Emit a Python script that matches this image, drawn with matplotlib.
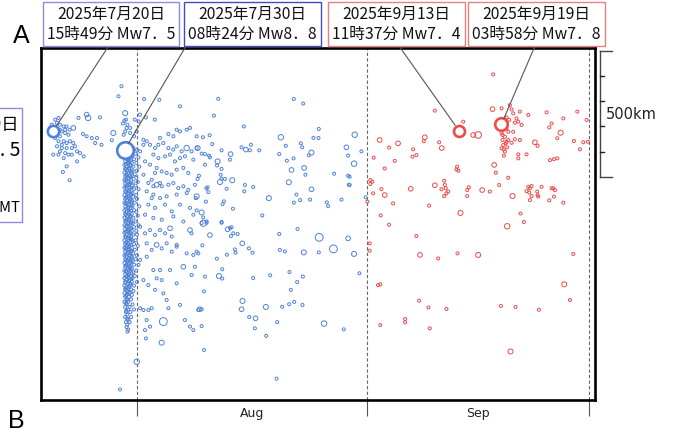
import matplotlib
matplotlib.use("Agg")
import matplotlib.pyplot as plt
from matplotlib.patches import Rectangle
from matplotlib.transforms import blended_transform_factory

# x: days since 2025-07-01 00:00 (Aug 1 = 31, Sep 1 = 62, Oct 1 = 92)
# y: km along the trench, 0 at the top edge of the panel
month_start = [31, 62, 92]
month_mid = [46.5, 77.0]
month_names = ["Aug", "Sep"]

main_day = [19.66, 29.35, 74.48, 80.17]
main_km = [331, 404, 330, 304]
main_mag = [7.5, 8.8, 7.4, 7.8]
main_text = ["2025年7月20日\n15時49分 Mw7．5",
             "2025年7月30日\n08時24分 Mw8．8",
             "2025年9月13日\n11時37分 Mw7．4",
             "2025年9月19日\n03時58分 Mw7．8"]

# aftershocks before Sep 13 (blue): (day, km, Mw)
blue_events = [
    (19.95, 285, 5.0), (20.4, 278, 5.0), (20.2, 298, 5.0), (20.6, 305, 5.0), (21.1, 312, 5.0),
    (21.5, 312, 5.0), (22.4, 318, 5.4), (20.85, 332, 5.0), (21.3, 338, 5.0), (21.75, 345, 5.0),
    (20.6, 351, 5.0), (19.95, 358, 5.0), (20.4, 371, 5.0), (21.1, 371, 5.0), (21.95, 371, 5.0),
    (22.4, 378, 5.0), (20.2, 391, 5.0), (20.85, 398, 5.0), (21.5, 398, 5.0), (20.6, 411, 5.0),
    (21.3, 418, 5.0), (22.2, 398, 5.0), (22.9, 411, 5.0), (23.3, 418, 5.0), (23.8, 431, 5.0),
    (21.75, 424, 5.0), (19.7, 424, 5.0), (21.1, 438, 5.0), (22.9, 451, 5.0), (21.5, 471, 5.0),
    (21.0, 493, 5.0), (21.9, 526, 5.0), (23.1, 278, 5.0), (24.2, 265, 5.4), (24.4, 278, 5.6),
    (26.0, 276, 5.0), (23.7, 342, 5.0), (24.2, 351, 5.0), (24.9, 358, 5.0), (25.6, 358, 5.0),
    (25.35, 378, 5.0), (26.2, 385, 5.0), (27.6, 367, 5.0), (27.8, 338, 5.5), (19.5, 305, 5.0),
    (19.3, 318, 5.0), (19.95, 318, 5.0), (20.6, 325, 5.0), (21.3, 325, 5.0), (21.9, 325, 5.0),
    (20.4, 424, 5.0), (22.2, 424, 5.0), (20.85, 385, 5.0), (21.5, 378, 5.0), (22.65, 391, 5.0),
    (28.9, 152, 5.0), (28.5, 192, 5.0), (29.4, 259, 5.5), (29.5, 285, 5.0), (29.7, 305, 5.0),
    (30.06, 318, 5.0), (30.7, 285, 5.0), (31.2, 292, 5.0), (31.4, 265, 5.0), (31.95, 203, 5.0),
    (32.2, 276, 5.0), (33.4, 285, 5.0), (34.0, 206, 5.0), (36.8, 232, 5.0), (29.2, 345, 5.0),
    (29.4, 332, 5.0), (30.06, 338, 5.0), (30.6, 351, 5.0), (30.95, 332, 5.0), (29.1, 300, 5.0),
    (29.3, 290, 5.0), (29.6, 318, 5.0),
    (31.86, 365, 5.0), (32.3, 371, 5.0), (32.75, 385, 5.0), (33.43, 398, 5.0), (34.1, 358, 5.0),
    (34.55, 378, 5.0), (35.23, 398, 5.0), (35.9, 404, 5.0), (36.35, 391, 5.0), (37.02, 411, 5.0),
    (37.7, 398, 5.6), (38.37, 411, 5.0), (39.05, 398, 5.0), (33.2, 424, 5.0), (33.88, 438, 5.0),
    (34.78, 431, 5.0), (35.45, 424, 5.0), (36.12, 451, 5.0), (36.8, 438, 5.0), (37.47, 431, 5.0),
    (38.6, 444, 5.0), (32.08, 451, 5.0), (32.75, 464, 5.0), (33.65, 477, 5.0), (34.33, 491, 5.0),
    (35.0, 497, 5.0), (35.68, 504, 5.0), (36.35, 484, 5.0), (37.25, 477, 5.0), (37.92, 497, 5.0),
    (31.86, 504, 5.0), (32.98, 524, 5.0), (33.65, 544, 5.4), (34.33, 550, 5.0), (35.23, 544, 5.0),
    (35.9, 537, 5.0), (36.57, 557, 5.0), (37.25, 550, 5.0), (37.92, 564, 5.0), (38.82, 544, 5.0),
    (32.3, 570, 5.0), (33.2, 583, 5.0), (34.1, 597, 5.0), (35.0, 590, 5.0), (36.35, 583, 5.0),
    (37.7, 577, 5.0), (39.05, 590, 5.5), (32.53, 623, 5.0), (33.43, 636, 5.0), (34.78, 623, 5.0),
    (35.68, 650, 5.0), (36.8, 623, 5.0), (38.15, 636, 5.0), (32.08, 663, 5.0), (33.2, 676, 5.0),
    (34.33, 683, 5.0), (35.9, 670, 5.0), (37.25, 690, 5.0), (38.6, 663, 5.0), (32.98, 597, 5.0),
    (36.8, 332, 5.0), (36.35, 325, 5.0), (35.23, 342, 5.0), (37.7, 325, 5.0), (38.15, 318, 5.0),
    (39.05, 351, 5.0), (35.9, 351, 5.0), (33.88, 385, 5.0), (31.41, 411, 5.0), (31.86, 385, 5.0),
    (32.53, 537, 5.0), (33.2, 550, 5.0), (34.1, 537, 5.0), (33.43, 497, 5.0),
    (31.41, 711, 5.0), (32.08, 737, 5.0), (32.75, 724, 5.0), (33.43, 744, 5.0), (34.1, 724, 5.0),
    (34.78, 737, 5.0), (35.45, 717, 5.4), (35.68, 750, 5.0), (36.35, 783, 5.0), (38.15, 724, 5.4),
    (38.37, 737, 5.0), (39.05, 810, 5.0), (32.3, 777, 5.0), (32.98, 803, 5.0), (33.65, 783, 5.4),
    (34.33, 797, 5.0), (35.0, 777, 5.0), (35.68, 810, 5.0), (36.35, 790, 5.0), (37.7, 817, 5.0),
    (38.6, 823, 5.0), (31.41, 843, 5.0), (32.3, 830, 5.0), (33.2, 883, 5.0), (34.1, 883, 5.0),
    (35.45, 883, 5.0), (37.25, 870, 5.4), (38.37, 903, 5.0), (38.82, 870, 5.0), (31.86, 923, 5.0),
    (32.53, 943, 5.0), (33.65, 916, 5.0), (34.33, 923, 5.0), (36.35, 936, 5.0), (33.43, 962, 5.0),
    (34.55, 976, 5.0), (35.0, 1002, 5.0), (35.23, 1035, 5.0), (36.8, 1022, 5.0), (31.41, 1035, 5.0),
    (31.86, 1042, 5.0), (32.53, 1042, 5.0), (32.98, 1035, 5.0), (32.3, 1082, 5.0), (32.75, 1108, 5.0),
    (34.55, 1088, 6.2), (37.47, 1082, 5.0), (38.15, 1108, 5.0), (38.6, 1122, 5.0), (32.08, 1122, 5.0),
    (32.2, 1155, 5.0), (34.33, 1172, 5.5), (30.96, 1248, 5.6), (28.71, 1358, 5.0), (39.27, 1042, 5.0),
    (41.96, 202, 5.0), (41.38, 269, 5.0), (45.42, 312, 5.0), (52.16, 203, 5.0), (53.42, 221, 5.0),
    (39.9, 355, 5.0), (40.8, 347, 5.0), (41.16, 382, 5.0), (39.18, 398, 5.5), (39.72, 420, 5.0),
    (40.17, 422, 5.0), (40.71, 428, 5.0), (40.84, 435, 5.0), (42.41, 407, 5.0), (43.63, 422, 5.4),
    (43.54, 444, 5.0), (45.11, 395, 5.0), (45.69, 404, 5.4), (46.23, 407, 5.0), (46.37, 385, 5.0),
    (47.49, 407, 5.0), (50.41, 355, 5.6), (51.08, 389, 5.0), (50.19, 422, 5.0), (52.12, 439, 5.0),
    (51.22, 448, 5.0), (53.11, 379, 5.0), (53.29, 395, 5.0), (54.18, 427, 5.0), (54.54, 416, 5.5),
    (54.81, 357, 5.0), (55.49, 358, 5.0), (55.53, 322, 5.0), (59.26, 395, 5.4), (59.49, 428, 5.0),
    (60.38, 345, 5.6), (61.28, 411, 5.0), (60.29, 460, 5.6), (40.17, 464, 5.0), (41.87, 451, 5.5),
    (41.8, 467, 5.0), (42.41, 481, 5.0), (42.28, 504, 5.0), (42.41, 520, 5.0), (42.19, 533, 5.5),
    (42.86, 521, 5.0), (43.85, 526, 5.5), (39.36, 508, 5.0), (39.18, 521, 5.0), (40.53, 554, 5.0),
    (40.35, 558, 5.0), (40.62, 573, 5.0), (43.09, 560, 5.0), (45.56, 545, 5.0), (46.68, 553, 5.0),
    (45.47, 570, 5.0), (48.79, 597, 5.5), (51.85, 485, 5.4), (53.55, 477, 5.4), (53.73, 504, 5.0),
    (51.49, 534, 5.5), (52.52, 583, 5.0), (52.16, 615, 5.0), (53.02, 605, 5.0), (54.36, 603, 5.0),
    (54.54, 562, 5.4), (57.6, 500, 5.0), (59.49, 508, 5.0), (59.58, 544, 5.0), (58.59, 603, 5.0),
    (56.61, 614, 5.0), (56.79, 629, 5.0), (39.72, 654, 5.5), (39.04, 646, 5.0), (39.94, 674, 5.0),
    (40.39, 690, 5.0), (39.72, 696, 5.0), (42.41, 692, 5.0), (43.54, 716, 5.0), (47.9, 666, 5.0),
    (40.3, 611, 5.0), (42.73, 610, 5.0), (42.55, 621, 5.0), (43.94, 639, 5.0), (38.95, 597, 5.0),
    (39.94, 697, 5.8), (40.39, 695, 5.0), (40.84, 744, 5.4), (42.41, 695, 5.0), (43.22, 721, 5.4),
    (43.76, 713, 5.0), (43.67, 748, 5.0), (43.99, 737, 5.0), (44.57, 740, 5.0), (45.2, 777, 5.4),
    (44.21, 801, 5.0), (44.3, 814, 5.0), (46.1, 797, 5.0), (46.59, 814, 5.0), (43.13, 822, 5.0),
    (41.78, 838, 5.0), (39.27, 817, 5.0), (39.81, 785, 5.0), (50.19, 740, 5.0), (52.66, 720, 5.0),
    (55.58, 753, 6.2), (57.51, 799, 6.2), (59.49, 757, 5.4), (60.29, 819, 5.5), (55.53, 813, 5.0),
    (53.51, 813, 5.5), (50.28, 803, 5.0), (50.95, 809, 5.0), (40.17, 909, 5.0), (42.05, 907, 5.5),
    (42.5, 917, 5.0), (46.68, 915, 5.0), (48.97, 904, 5.0), (51.58, 891, 5.0), (53.38, 909, 5.0),
    (52.61, 931, 5.0), (51.76, 962, 5.0), (40.03, 968, 5.0), (39.45, 1039, 5.4), (39.72, 1039, 5.0),
    (45.24, 1006, 5.5), (45.11, 1039, 5.4), (48.39, 1030, 5.5), (50.59, 1029, 5.0), (51.53, 1019, 5.0),
    (52.21, 1010, 5.0), (53.33, 1022, 5.0), (46.14, 1070, 5.0), (46.99, 1075, 5.4), (46.9, 1115, 5.0),
    (49.92, 1090, 5.0), (48.43, 1145, 5.0), (56.25, 1096, 5.6), (58.9, 1119, 5.0), (39.72, 1106, 5.0),
    (40.03, 1201, 5.0), (49.83, 1315, 5.0), (61.01, 896, 5.0), (42.5, 880, 5.0),
    (61.86, 594, 5.0), (59.7, 512, 5.0), (59.7, 545, 5.0),
]

# dense band of aftershocks right after the Mw8.8 event: (day, km)
band_events = [
    (29.4, 390), (30.1, 390), (29.7, 398), (30.5, 398), (29.3, 405), (30.0, 405), (31.0, 405),
    (29.6, 412), (30.3, 412), (29.4, 420), (29.9, 420), (30.8, 420), (29.8, 428), (30.4, 428),
    (29.3, 435), (30.1, 435), (31.2, 435), (29.6, 442), (30.6, 442), (29.4, 450), (30.0, 450),
    (29.8, 457), (30.3, 457), (30.9, 457), (29.3, 465), (30.1, 465), (29.6, 472), (30.5, 472),
    (31.3, 472), (29.4, 480), (29.9, 480), (29.7, 487), (30.4, 487), (31.0, 487), (29.3, 495),
    (30.2, 495), (29.6, 502), (30.7, 502), (29.4, 510), (30.0, 510), (30.4, 510), (29.8, 517),
    (30.9, 517), (29.3, 525), (30.2, 525), (29.6, 532), (30.5, 532), (31.1, 532), (29.4, 540),
    (30.0, 540), (29.7, 547), (30.3, 547), (30.8, 547), (29.3, 555), (30.1, 555), (29.6, 562),
    (30.6, 562), (31.2, 562), (29.4, 570), (29.9, 570), (29.8, 577), (30.4, 577), (29.3, 585),
    (30.1, 585), (30.9, 585), (29.6, 592), (30.5, 592), (29.4, 600), (30.0, 600), (31.0, 600),
    (29.7, 607), (30.3, 607), (29.3, 615), (30.2, 615), (30.7, 615), (29.6, 622), (29.9, 622),
    (29.4, 630), (30.4, 630), (31.3, 630), (29.8, 637), (30.1, 637), (29.3, 645), (30.6, 645),
    (29.6, 652), (30.0, 652), (30.9, 652), (29.4, 660), (30.3, 660), (29.7, 667), (30.1, 667),
    (31.1, 667), (29.3, 675), (30.5, 675), (29.6, 682), (29.9, 682), (29.4, 690), (30.2, 690),
    (30.8, 690), (29.8, 697), (30.4, 697), (29.3, 705), (30.0, 705), (31.2, 705), (29.6, 712),
    (30.6, 712), (29.4, 720), (30.1, 720), (29.7, 727), (30.3, 727), (30.9, 727), (29.3, 735),
    (30.0, 735), (29.6, 742), (30.5, 742), (31.0, 742), (29.4, 750), (30.2, 750), (29.8, 757),
    (30.0, 757), (29.3, 765), (30.4, 765), (30.8, 765), (29.6, 772), (30.1, 772), (29.4, 780),
    (30.6, 780), (29.7, 787), (30.0, 787), (31.1, 787), (29.3, 795), (30.3, 795), (29.6, 802),
    (29.9, 802), (30.7, 802), (29.4, 810), (30.2, 810), (29.8, 817), (30.5, 817), (29.3, 825),
    (30.0, 825), (31.0, 825), (29.6, 832), (30.3, 832), (29.4, 840), (29.9, 840), (30.8, 840),
    (29.7, 847), (30.4, 847), (29.3, 855), (30.1, 855), (29.6, 862), (30.6, 862), (31.2, 862),
    (29.4, 870), (30.0, 870), (29.8, 877), (30.3, 877), (29.3, 885), (30.1, 885), (30.9, 885),
    (29.6, 892), (30.5, 892), (29.4, 900), (29.9, 900), (29.7, 907), (30.2, 907), (30.7, 907),
    (29.3, 915), (30.4, 915), (29.6, 922), (30.0, 922), (29.4, 930), (30.3, 930), (31.0, 930),
    (29.8, 937), (30.1, 937), (29.3, 945), (30.6, 945), (29.6, 952), (29.9, 952), (29.4, 960),
    (30.2, 960), (29.7, 967), (30.5, 967), (29.3, 975), (30.0, 975), (29.6, 982), (30.3, 982),
    (29.4, 990), (29.9, 990), (29.7, 1000), (30.2, 1000), (29.3, 1010), (29.8, 1010), (29.6, 1020),
    (30.4, 1020), (29.4, 1030), (30.0, 1030), (29.8, 1040), (30.6, 1040), (29.5, 1050), (30.1, 1050),
    (29.7, 1060), (29.4, 1070), (30.2, 1070), (29.8, 1080), (29.5, 1090), (30.0, 1090), (29.7, 1100),
    (29.6, 1110), (29.8, 1120), (29.7, 1128),
    (29.5, 394), (30.2, 401), (29.9, 410), (29.5, 417), (30.25, 424), (29.85, 432), (29.55, 438),
    (30.2, 447), (29.9, 453), (29.5, 462), (30.15, 468), (29.95, 476), (29.5, 483), (30.25, 491),
    (29.85, 499), (29.55, 506), (30.2, 514), (29.9, 520), (29.45, 529), (30.15, 536), (29.95, 543),
    (29.5, 550), (30.25, 559), (29.85, 566), (29.55, 574), (30.2, 580), (29.9, 589), (29.5, 596),
    (30.15, 603), (29.95, 611), (29.45, 618), (30.25, 626), (29.85, 634), (29.55, 641), (30.2, 648),
    (29.9, 655), (29.5, 664), (30.15, 671), (29.95, 678), (29.5, 686), (30.25, 694), (29.85, 701),
    (29.55, 708), (30.2, 716), (29.9, 723), (29.45, 731), (30.15, 738), (29.95, 746), (29.5, 753),
    (30.25, 761), (29.85, 768), (29.55, 776), (30.2, 784), (29.9, 791), (29.5, 798), (30.15, 806),
    (29.95, 813), (29.45, 821), (30.25, 828), (29.85, 836), (29.55, 844), (30.2, 851), (29.9, 858),
    (29.5, 866), (30.15, 873), (29.95, 881), (29.5, 888), (30.25, 896), (29.85, 903), (29.55, 911),
    (30.2, 918), (29.9, 926), (29.45, 933), (30.15, 941), (29.95, 948), (29.5, 956), (29.9, 970),
    (29.5, 985), (29.6, 1003), (29.5, 1016), (29.55, 1045), (29.65, 1076),
]

# aftershocks from Sep 13 on (red): (day, km, Mw)
red_events = [
    (79.07, 105, 5.0), (71.19, 249, 5.0), (75.02, 293, 5.0), (76.37, 346, 5.4), (77.04, 346, 5.9),
    (78.98, 243, 5.4), (80.2, 240, 5.0), (81.32, 227, 5.0), (81.55, 244, 5.0), (81.77, 260, 5.0),
    (80.87, 276, 5.0), (81.23, 286, 5.0), (82.22, 280, 5.0), (82.0, 297, 5.0), (82.45, 293, 5.0),
    (82.9, 306, 5.0), (82.67, 253, 5.0), (83.8, 266, 5.0), (86.28, 256, 5.0), (86.95, 300, 5.0),
    (86.64, 316, 5.0), (88.53, 280, 5.0), (90.42, 253, 5.0), (91.68, 286, 5.0), (88.17, 337, 5.5),
    (87.72, 359, 5.0), (89.97, 370, 5.0), (91.23, 375, 5.0), (90.78, 403, 5.0), (91.86, 373, 5.0),
    (84.7, 375, 5.4), (85.06, 389, 5.0), (83.57, 423, 5.0), (82.45, 423, 5.0), (82.45, 439, 5.0),
    (86.73, 446, 5.0), (87.27, 442, 5.0), (87.72, 439, 5.0),
    (80.42, 326, 5.0), (80.87, 320, 5.0), (80.2, 339, 5.0), (80.65, 353, 5.0), (80.33, 366, 5.0),
    (80.87, 373, 5.0), (80.42, 386, 5.0), (80.2, 399, 5.0), (80.65, 412, 5.0), (80.51, 428, 5.0),
    (81.1, 366, 5.0), (81.55, 377, 5.0), (81.77, 333, 5.0), (82.0, 363, 5.0), (82.67, 366, 5.0),
    (80.96, 395, 5.0), (80.33, 346, 5.0), (80.78, 379, 5.0), (80.51, 403, 5.0), (81.1, 333, 5.0),
    (80.65, 306, 5.0),
    (63.75, 366, 5.4), (65.02, 396, 5.0), (66.23, 379, 5.4), (62.94, 436, 5.0), (65.78, 449, 5.0),
    (64.43, 479, 5.0), (68.26, 403, 5.0), (68.17, 432, 5.0), (68.71, 426, 5.0), (69.84, 355, 5.4),
    (69.7, 371, 5.0), (71.77, 375, 5.0), (72.13, 398, 5.4), (74.2, 472, 5.0), (74.38, 488, 5.0),
    (74.11, 483, 5.0), (62.49, 525, 5.0), (62.76, 532, 5.0), (62.49, 541, 5.0), (63.98, 561, 5.0),
    (62.85, 578, 5.0), (62.09, 611, 5.0), (64.43, 585, 5.4), (65.56, 618, 5.0), (63.89, 666, 5.0),
    (65.02, 703, 5.0), (67.94, 560, 5.4), (70.42, 627, 5.0), (71.19, 546, 5.4), (72.09, 562, 5.0),
    (72.45, 528, 5.0), (72.54, 545, 5.0), (72.67, 558, 5.0), (72.76, 578, 5.0), (72.99, 571, 5.0),
    (72.45, 589, 5.0), (75.56, 589, 5.0), (75.56, 565, 5.0), (75.78, 554, 5.0), (77.58, 565, 5.4),
    (78.62, 571, 5.0), (79.88, 545, 5.0), (81.1, 516, 5.0), (79.2, 465, 5.4), (79.43, 496, 5.0),
    (81.68, 589, 5.5), (82.76, 658, 5.0), (83.21, 692, 5.0), (80.96, 709, 5.6), (74.65, 656, 5.5),
    (83.8, 552, 5.0), (84.02, 558, 5.0), (84.25, 549, 5.0), (83.57, 569, 5.0), (83.93, 575, 5.0),
    (84.25, 589, 5.0), (84.02, 605, 5.0), (85.02, 571, 5.0), (85.06, 585, 5.0), (85.15, 591, 5.0),
    (85.6, 552, 5.0), (87.18, 558, 5.0), (87.4, 565, 5.0), (86.95, 558, 5.0), (87.27, 591, 5.0),
    (86.64, 606, 5.0), (88.53, 615, 5.0),
    (62.4, 777, 5.0), (62.4, 806, 5.0), (68.71, 748, 5.0), (69.2, 823, 5.4), (71.64, 837, 5.0),
    (74.25, 817, 5.0), (77.04, 823, 5.5), (89.88, 819, 5.0), (63.53, 943, 5.0), (63.84, 940, 5.0),
    (69.07, 1005, 5.0), (70.33, 1032, 5.0), (72.76, 1038, 5.0), (80.11, 1026, 5.0), (82.09, 1030, 5.0),
    (85.24, 1041, 5.0), (89.43, 1002, 5.0), (88.66, 940, 5.5), (67.18, 1078, 5.0), (67.18, 1091, 5.0),
    (63.84, 1102, 5.0), (70.51, 1115, 5.0), (81.41, 1207, 5.5),
]

BLUE = "#4f82d6"
RED = "#ee4a4a"
jp_font = ["Noto Sans CJK JP", "DejaVu Sans"]


def marker_area(mag, lw):
    # outer diameter about 4 px per magnitude unit above 4
    d = 0.72 * 4.0 * (mag - 4.0) - lw
    return d * d


fig = plt.figure(figsize=(6.76, 4.32), dpi=100)
ax = fig.add_axes([41 / 676, 32 / 432, 554 / 676, 352 / 432])
ax.set_xlim(18.04, 92.81)
ax.set_ylim(1400, 0)

for d in month_start:
    ax.axvline(d, color="#666666", lw=0.8, ls=(0, (3, 2)), zorder=1)

ax.scatter([e[0] for e in band_events], [e[1] for e in band_events],
           s=marker_area(5.0, 0.7), facecolors="none", edgecolors=BLUE, linewidths=0.7, zorder=2)
ax.scatter([e[0] for e in blue_events], [e[1] for e in blue_events],
           s=[marker_area(e[2], 0.7) for e in blue_events], facecolors="none",
           edgecolors=BLUE, linewidths=0.7, zorder=2)
ax.scatter([e[0] for e in red_events], [e[1] for e in red_events],
           s=[marker_area(e[2], 0.7) for e in red_events], facecolors="none",
           edgecolors=RED, linewidths=0.7, zorder=2)

main_color = [BLUE, BLUE, RED, RED]
for d, k, m, c in zip(main_day, main_km, main_mag, main_color):
    ax.scatter([d], [k], s=marker_area(m, 1.9), facecolors="white", edgecolors=c,
               linewidths=1.9, zorder=4)

# labelled boxes for the four large events
box_center = [(111, 408), (252.5, 408), (396.5, 408), (536.5, 408)]
box_edge = ["#8c8ce0", "#4848b8", "#e88080", "#e88080"]
line_start = [(0.5, 0), (0, 0), (0.5, 0), (0.5, 0)]
for i in range(4):
    ax.annotate(main_text[i], xy=(main_day[i], main_km[i]), xycoords="data",
                xytext=box_center[i], textcoords="figure pixels",
                ha="center", va="center", fontsize=11.3, family=jp_font,
                linespacing=1.22, color="#111111",
                bbox=dict(boxstyle="square,pad=0.25", fc="white", ec=box_edge[i], lw=1.0),
                arrowprops=dict(arrowstyle="-", color="#555555", lw=0.8,
                                relpos=line_start[i], shrinkA=0, shrinkB=5),
                annotation_clip=False, zorder=5)

for s in ax.spines.values():
    s.set_linewidth(1.9)
    s.set_color("black")
ax.set_yticks([])
ax.set_xticks(month_start)
ax.set_xticklabels([])
ax.tick_params(axis="x", which="major", direction="out", length=11.5, width=0.8, color="#555555")
ax.set_xticks(month_mid, minor=True)
ax.set_xticklabels(month_names, minor=True, fontsize=9, color="#222222")
ax.tick_params(axis="x", which="minor", length=0, pad=5)

# 500 km scale bar right of the panel
tr = blended_transform_factory(ax.transAxes, ax.transData)
ax.plot([1.009, 1.009], [12, 512], color="#444444", lw=1.0, transform=tr, clip_on=False)
for k in [12, 512]:
    ax.plot([1.009, 1.031], [k, k], color="#444444", lw=1.0, transform=tr, clip_on=False)
for k in [112, 212, 312, 412]:
    ax.plot([1.009, 1.016], [k, k], color="#222222", lw=1.0, transform=tr, clip_on=False)
ax.text(1.02, 264, "500km", transform=tr, fontsize=10.5, va="center", ha="left", color="#222222")

# panel letters
fig.text(13 / 676, 389 / 432, "A", fontsize=18, family="Liberation Sans", va="baseline")
fig.text(8 / 676, 4 / 432, "B", fontsize=18, family="Liberation Sans", va="baseline")

# box of the neighbouring panel, cut by the left edge of the figure
fig.patches.append(Rectangle((-40 / 676, 210 / 432), 62 / 676, 114 / 432, transform=fig.transFigure,
                             fc="white", ec="#8c8ce0", lw=1.0))
fig.text(19 / 676, 307 / 432, "2025年7月29日", ha="right", va="center", fontsize=12.5, family=jp_font)
fig.text(20 / 676, 282 / 432, "23時24分 Mw7. 5", ha="right", va="center", fontsize=14, family=jp_font)
fig.text(20 / 676, 224 / 432, "06:49 GMT", ha="right", va="center", fontsize=10.5, family=jp_font)

fig.savefig("out.png", dpi=100)
